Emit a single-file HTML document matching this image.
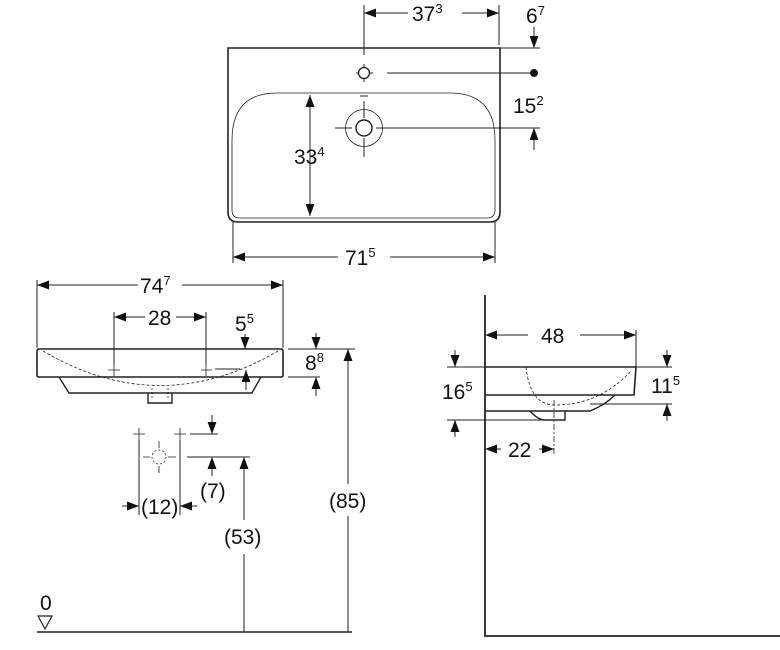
<!DOCTYPE html>
<html><head><meta charset="utf-8"><style>
html,body{margin:0;padding:0;background:#fff;}
svg{display:block;}
text{font-family:"Liberation Sans",sans-serif;font-size:21px;fill:#111;}
.s{font-size:13px;}
</style></head><body>
<svg width="780" height="650" viewBox="0 0 780 650" xmlns="http://www.w3.org/2000/svg">
<defs>
<marker id="a" markerUnits="userSpaceOnUse" markerWidth="13" markerHeight="10" refX="12" refY="4.5" orient="auto-start-reverse"><path d="M0,0 L12,4.5 L0,9 z" fill="#111"/></marker>
</defs>
<g stroke="#222" fill="none" stroke-width="1">
<path d="M228,48 H500 V212 Q500,222 490,222 H238 Q228,222 228,212 Z" stroke-width="1.6"/>
<path d="M277,93 H450 Q495,93 495,140 V210 Q495,218 487,218 H240 Q232,218 232,210 V140 Q232,93 277,93 Z" stroke-width="0.8"/>
<circle cx="364" cy="73" r="5.5" stroke-width="1.3"/>
<path d="M356,73 H358 M370,73 H373 M364,64 V67 M364,79 V82" />
<line x1="387" y1="73" x2="532" y2="73"/>
<circle cx="534" cy="73" r="3.5" fill="#111"/>
<circle cx="364" cy="128" r="18.5" stroke-width="0.8"/>
<circle cx="364" cy="128" r="8" stroke-width="1.4"/>
<path d="M335,128 H352 M376,128 H392 M364,101 V118 M364,138 V157 M360,96 H368"/>
<line x1="380" y1="128" x2="540" y2="128"/>
<line x1="364" y1="5" x2="364" y2="55"/>
<line x1="499" y1="5" x2="499" y2="45"/>
<line x1="408" y1="13" x2="364" y2="13" marker-end="url(#a)"/>
<line x1="462" y1="13" x2="499" y2="13" marker-end="url(#a)"/>
<line x1="500" y1="48" x2="540" y2="48"/>
<line x1="534" y1="27" x2="534" y2="48" marker-end="url(#a)"/>
<line x1="534" y1="150" x2="534" y2="128" marker-end="url(#a)"/>
<line x1="310" y1="95" x2="310" y2="216" marker-start="url(#a)" marker-end="url(#a)"/>
<line x1="233" y1="222" x2="233" y2="263"/>
<line x1="495" y1="222" x2="495" y2="263"/>
<line x1="338" y1="257" x2="233" y2="257" marker-end="url(#a)"/>
<line x1="390" y1="257" x2="495" y2="257" marker-end="url(#a)"/>

<line x1="37" y1="280" x2="37" y2="348"/>
<line x1="283" y1="280" x2="283" y2="348"/>
<line x1="138" y1="285" x2="37" y2="285" marker-end="url(#a)"/>
<line x1="182" y1="285" x2="283" y2="285" marker-end="url(#a)"/>
<path d="M39,349 H281 Q283,349 283,351 V375 Q283,377 281,377 H39 Q37,377 37,375 V351 Q37,349 39,349 Z" stroke-width="1.6"/>
<path d="M59,377 L69,393 H252 L261,377" stroke-width="1.4"/>
<path d="M148,393 V403 H172 V393" stroke-width="1.4"/>
<path d="M43,351 Q160,420 278,351" stroke-dasharray="3,2" stroke-width="0.8"/>
<path d="M152,388 V400 M168,388 V400" stroke-dasharray="2,2" stroke-width="0.8"/>
<line x1="114" y1="312" x2="114" y2="365"/>
<line x1="206" y1="312" x2="206" y2="365"/>
<line x1="145" y1="317" x2="114" y2="317" marker-end="url(#a)"/>
<line x1="176" y1="317" x2="206" y2="317" marker-end="url(#a)"/>
<path d="M108,370 H120 M114,364 V376 M201,370 H212 M206,364 V376" stroke-width="0.8"/>
<line x1="245" y1="334" x2="245" y2="349" marker-end="url(#a)"/>
<line x1="246" y1="390" x2="246" y2="370" marker-end="url(#a)"/>
<line x1="215" y1="369" x2="240" y2="369"/>
<line x1="288" y1="349" x2="355" y2="349"/>
<line x1="288" y1="377" x2="320" y2="377"/>
<line x1="316" y1="333" x2="316" y2="349" marker-end="url(#a)"/>
<line x1="316" y1="396" x2="316" y2="377" marker-end="url(#a)"/>
<line x1="348" y1="484" x2="348" y2="349" marker-end="url(#a)"/>
<line x1="348" y1="516" x2="348" y2="632"/>
<line x1="37" y1="632" x2="352" y2="632" stroke-width="1.6"/>
<path d="M38,616 H52 L45,629 Z" stroke-width="1.2"/>
<line x1="187" y1="457" x2="250" y2="457"/>
<line x1="244" y1="520" x2="244" y2="457" marker-end="url(#a)"/>
<line x1="244" y1="554" x2="244" y2="632"/>
<path d="M133,434 H145 M139,428 V440 M174,434 H186 M180,428 V440" stroke-width="0.8"/>
<circle cx="159" cy="457" r="7" stroke-dasharray="2,2" stroke-width="0.8"/>
<path d="M143,457 H150 M168,457 H176 M159,441 V448 M159,466 V473" stroke-width="0.8"/>
<line x1="139" y1="440" x2="139" y2="515"/>
<line x1="180" y1="440" x2="180" y2="515"/>
<line x1="122" y1="506" x2="139" y2="506" marker-end="url(#a)"/>
<line x1="197" y1="506" x2="180" y2="506" marker-end="url(#a)"/>
<line x1="190" y1="434" x2="218" y2="434"/>
<line x1="212" y1="415" x2="212" y2="434" marker-end="url(#a)"/>
<line x1="212" y1="476" x2="212" y2="457" marker-end="url(#a)"/>

<path d="M485,295 V636 H780" stroke-width="1.8"/>
<line x1="636" y1="330" x2="636" y2="368"/>
<line x1="528" y1="335" x2="485" y2="335" marker-end="url(#a)"/>
<line x1="580" y1="335" x2="636" y2="335" marker-end="url(#a)"/>
<path d="M485,367 H636 L634,395 H485" stroke-width="1.6"/>
<path d="M485,411 H590 Q605,405 615,395" stroke-width="1.4"/>
<path d="M530,411 Q538,420 545,420 H565 V411" stroke-width="1.4"/>
<path d="M526,367 Q530,405 555,405 Q600,405 632,370" stroke-dasharray="3,2" stroke-width="0.8"/>
<line x1="554" y1="400" x2="554" y2="455" stroke-dasharray="6,2,2,2" stroke-width="0.8"/>
<line x1="447" y1="367" x2="485" y2="367"/>
<line x1="447" y1="420" x2="545" y2="420"/>
<line x1="455" y1="350" x2="455" y2="367" marker-end="url(#a)"/>
<line x1="455" y1="437" x2="455" y2="420" marker-end="url(#a)"/>
<line x1="636" y1="367" x2="672" y2="367"/>
<line x1="590" y1="404" x2="672" y2="404"/>
<line x1="667" y1="350" x2="667" y2="367" marker-end="url(#a)"/>
<line x1="667" y1="421" x2="667" y2="404" marker-end="url(#a)"/>
<line x1="501" y1="449" x2="485" y2="449" marker-end="url(#a)"/>
<line x1="539" y1="449" x2="554" y2="449" marker-end="url(#a)"/>
</g>

<g>
<text x="412" y="21">37<tspan class="s" dy="-8">3</tspan></text>
<text x="526" y="23">6<tspan class="s" dy="-8">7</tspan></text>
<text x="513" y="113">15<tspan class="s" dy="-8">2</tspan></text>
<text x="294" y="164">33<tspan class="s" dy="-8">4</tspan></text>
<text x="345" y="265">71<tspan class="s" dy="-8">5</tspan></text>
<text x="140" y="293">74<tspan class="s" dy="-8">7</tspan></text>
<text x="148" y="325">28</text>
<text x="235" y="331">5<tspan class="s" dy="-8">5</tspan></text>
<text x="305" y="370">8<tspan class="s" dy="-8">8</tspan></text>
<text x="329" y="508">(85)</text>
<text x="224" y="544">(53)</text>
<text x="200" y="498">(7)</text>
<text x="141" y="514">(12)</text>
<text x="40" y="610">0</text>
<text x="541" y="343">48</text>
<text x="442" y="399">16<tspan class="s" dy="-8">5</tspan></text>
<text x="651" y="393">11<tspan class="s" dy="-8">5</tspan></text>
<text x="508" y="457">22</text>
</g>
</svg>
</body></html>
